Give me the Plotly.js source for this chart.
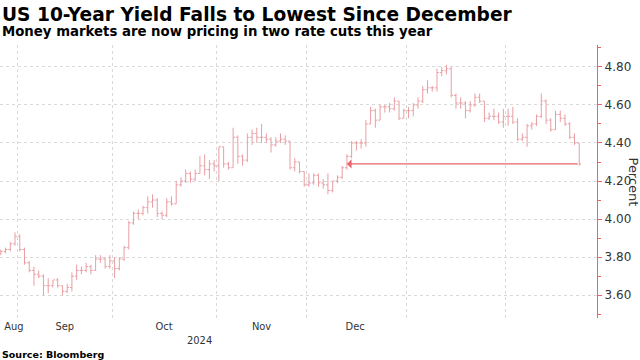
<!DOCTYPE html>
<html>
<head>
<meta charset="utf-8">
<script src="https://cdn.plot.ly/plotly-3.0.1.min.js"></script>
<style>
  html, body { margin: 0; padding: 0; background: #ffffff; }
  #chart { width: 640px; height: 360px; }
</style>
</head>
<body>
<div id="chart"></div>
<script>
// ---- Data (US 10-year Treasury yield, daily OHLC, percent) ----
const dates = [
  '2024-08-26','2024-08-27','2024-08-28','2024-08-29','2024-08-30',
  '2024-09-03','2024-09-04','2024-09-05','2024-09-06','2024-09-09','2024-09-10','2024-09-11','2024-09-12','2024-09-13','2024-09-16','2024-09-17','2024-09-18','2024-09-19','2024-09-20','2024-09-23','2024-09-24','2024-09-25','2024-09-26','2024-09-27','2024-09-30',
  '2024-10-01','2024-10-02','2024-10-03','2024-10-04','2024-10-07','2024-10-08','2024-10-09','2024-10-10','2024-10-11','2024-10-15','2024-10-16','2024-10-17','2024-10-18','2024-10-21','2024-10-22','2024-10-23','2024-10-24','2024-10-25','2024-10-28','2024-10-29','2024-10-30','2024-10-31',
  '2024-11-01','2024-11-04','2024-11-05','2024-11-06','2024-11-07','2024-11-08','2024-11-12','2024-11-13','2024-11-14','2024-11-15','2024-11-18','2024-11-19','2024-11-20','2024-11-21','2024-11-22','2024-11-25','2024-11-26','2024-11-27','2024-11-29',
  '2024-12-02','2024-12-03','2024-12-04','2024-12-05','2024-12-06','2024-12-09','2024-12-10','2024-12-11','2024-12-12','2024-12-13','2024-12-16','2024-12-17','2024-12-18','2024-12-19','2024-12-20','2024-12-23','2024-12-24','2024-12-26','2024-12-27','2024-12-30','2024-12-31',
  '2025-01-02','2025-01-03','2025-01-06','2025-01-07','2025-01-08','2025-01-09','2025-01-10','2025-01-13','2025-01-14','2025-01-15','2025-01-16','2025-01-17','2025-01-21','2025-01-22','2025-01-23','2025-01-24','2025-01-27','2025-01-28','2025-01-29','2025-01-30','2025-01-31',
  '2025-02-03','2025-02-04','2025-02-05','2025-02-06','2025-02-07','2025-02-10','2025-02-11','2025-02-12','2025-02-13','2025-02-14','2025-02-18','2025-02-19','2025-02-20','2025-02-21','2025-02-24','2025-02-25'
];
const openVals = [
  3.81,3.82,3.83,3.84,3.87,
  3.91,3.84,3.77,3.73,3.71,3.70,3.65,3.65,3.68,3.65,3.62,3.64,3.70,3.73,3.73,3.75,3.73,3.79,3.79,3.75,
  3.78,3.74,3.79,3.85,3.98,4.03,4.03,4.06,4.09,4.10,4.03,4.02,4.09,4.08,4.18,4.20,4.24,4.21,4.24,4.28,4.26,4.29,
  4.28,4.38,4.29,4.27,4.43,4.33,4.31,4.43,4.45,4.43,4.43,4.42,4.39,4.41,4.42,4.41,4.27,4.30,4.25,
  4.18,4.19,4.23,4.19,4.18,4.15,4.20,4.22,4.27,4.33,4.40,4.40,4.40,4.50,4.57,4.52,4.59,4.59,4.58,4.62,4.53,
  4.57,4.57,4.60,4.62,4.68,4.69,4.69,4.77,4.78,4.79,4.65,4.61,4.61,4.57,4.60,4.64,4.62,4.53,4.54,4.54,4.51,
  4.54,4.54,4.51,4.42,4.43,4.49,4.50,4.54,4.62,4.52,4.47,4.55,4.53,4.50,4.43,4.40
];
const highVals = [
  3.83,3.84,3.85,3.88,3.93,
  3.92,3.85,3.78,3.75,3.73,3.71,3.69,3.68,3.69,3.65,3.66,3.72,3.76,3.75,3.77,3.76,3.81,3.81,3.80,3.81,
  3.80,3.80,3.86,3.99,4.04,4.05,4.07,4.12,4.13,4.11,4.04,4.11,4.12,4.20,4.22,4.26,4.25,4.26,4.33,4.34,4.31,4.31,
  4.38,4.38,4.30,4.48,4.44,4.34,4.45,4.47,4.48,4.50,4.45,4.43,4.43,4.45,4.44,4.41,4.32,4.30,4.25,
  4.24,4.24,4.24,4.21,4.24,4.20,4.23,4.28,4.34,4.41,4.41,4.42,4.52,4.59,4.58,4.60,4.60,4.61,4.64,4.62,4.58,
  4.59,4.61,4.64,4.70,4.73,4.70,4.79,4.80,4.81,4.80,4.66,4.64,4.62,4.62,4.66,4.66,4.62,4.56,4.58,4.56,4.58,
  4.58,4.59,4.53,4.45,4.50,4.51,4.55,4.66,4.63,4.53,4.57,4.57,4.55,4.51,4.45,4.40
];
const lowVals = [
  3.80,3.81,3.82,3.83,3.86,
  3.83,3.76,3.72,3.65,3.69,3.60,3.61,3.64,3.64,3.60,3.61,3.62,3.68,3.71,3.72,3.71,3.73,3.77,3.74,3.74,
  3.69,3.73,3.78,3.84,3.97,4.00,4.02,4.03,4.06,4.01,4.00,4.01,4.07,4.08,4.17,4.19,4.19,4.20,4.24,4.23,4.21,4.25,
  4.20,4.27,4.26,4.27,4.29,4.28,4.30,4.39,4.40,4.40,4.40,4.35,4.38,4.40,4.39,4.26,4.25,4.24,4.17,
  4.17,4.18,4.17,4.16,4.13,4.14,4.19,4.21,4.26,4.32,4.36,4.37,4.38,4.50,4.48,4.52,4.56,4.56,4.57,4.52,4.53,
  4.53,4.54,4.58,4.61,4.66,4.67,4.67,4.75,4.76,4.64,4.58,4.58,4.53,4.56,4.59,4.61,4.51,4.52,4.52,4.50,4.48,
  4.49,4.50,4.41,4.41,4.38,4.47,4.49,4.53,4.50,4.46,4.47,4.51,4.49,4.42,4.39,4.28
];
const closeVals = [
  3.82,3.83,3.84,3.87,3.91,
  3.84,3.77,3.73,3.71,3.70,3.65,3.65,3.68,3.65,3.62,3.64,3.70,3.73,3.73,3.75,3.73,3.79,3.79,3.75,3.78,
  3.74,3.79,3.85,3.98,4.03,4.03,4.06,4.09,4.10,4.03,4.02,4.09,4.08,4.18,4.20,4.24,4.21,4.24,4.28,4.26,4.29,4.28,
  4.38,4.29,4.27,4.43,4.33,4.31,4.43,4.45,4.43,4.43,4.42,4.39,4.41,4.42,4.41,4.27,4.30,4.25,4.18,
  4.19,4.23,4.19,4.18,4.15,4.20,4.22,4.27,4.33,4.40,4.40,4.40,4.50,4.57,4.52,4.59,4.59,4.58,4.62,4.53,4.57,
  4.57,4.60,4.62,4.68,4.69,4.69,4.77,4.78,4.79,4.65,4.61,4.61,4.57,4.60,4.64,4.62,4.53,4.54,4.54,4.51,4.54,
  4.54,4.51,4.42,4.43,4.49,4.50,4.54,4.62,4.52,4.47,4.55,4.53,4.50,4.43,4.40,4.29
];
const holidays = ['2024-09-02','2024-10-14','2024-11-11','2024-11-28','2024-12-25','2025-01-01','2025-01-20','2025-02-17'];

// Month labels and month-boundary grid positions
const monthLabels = ['Aug','Sep','Oct','Nov','Dec'];
const monthLabelDates = ['2024-08-29 18:00','2024-09-16 12:00','2024-10-16 10:00','2024-11-15 00:00','2024-12-13 18:00'];
const monthBoundaries = ['2024-08-30 12:00','2024-09-30 12:00','2024-10-31 12:00','2024-11-29 12:00','2024-12-31 12:00','2025-01-31 12:00'];
const yearLabel = '2024';
const yearLabelDate = '2024-10-28';

// Reference line: latest close back to the last time yield was at that level
const refLevel = 4.29;
const refStartDate = '2024-12-12';
const refEndDate = '2025-02-25';

const yTicks = [3.60, 3.80, 4.00, 4.20, 4.40, 4.60, 4.80];

const RED = '#e8636b';
const BAR = '#e99ea3';
const GRID = '#d9d9d9';
const FONT = 'DejaVu Sans, Verdana, sans-serif';
const FONT_C = 'DejaVu Sans Condensed, DejaVu Sans, sans-serif';

const trace = {
  type: 'ohlc',
  x: dates,
  open: openVals,
  high: highVals,
  low: lowVals,
  close: closeVals,
  increasing: { line: { color: BAR, width: 1 } },
  decreasing: { line: { color: BAR, width: 1 } },
  tickwidth: 0.4,
  hoverinfo: 'skip',
  showlegend: false
};

const layout = {
  width: 640,
  height: 360,
  margin: { l: 0, r: 43, t: 45, b: 42, pad: 0 },
  paper_bgcolor: '#ffffff',
  plot_bgcolor: '#ffffff',
  showlegend: false,
  xaxis: {
    type: 'date',
    range: ['2024-08-26 20:00', '2025-02-28 18:00'],
    rangebreaks: [ { bounds: ['sat', 'mon'] }, { values: holidays } ],
    rangeslider: { visible: false },
    tickmode: 'array',
    tickvals: monthLabelDates,
    ticktext: monthLabels,
    ticks: '',
    showgrid: false,
    zeroline: false,
    showline: false,
    tickfont: { family: FONT_C, size: 11, color: '#333333' },
    minor: {
      tickmode: 'array',
      tickvals: monthBoundaries,
      ticks: '',
      showgrid: true,
      gridcolor: GRID,
      griddash: 'dot',
      gridwidth: 1
    }
  },
  yaxis: {
    side: 'right',
    range: [3.48, 4.915],
    tickmode: 'array',
    tickvals: yTicks,
    tickformat: '.2f',
    ticks: 'outside',
    ticklen: 4,
    tickwidth: 1,
    tickcolor: RED,
    showline: true,
    linecolor: RED,
    linewidth: 1.2,
    showgrid: true,
    gridcolor: GRID,
    griddash: 'dot',
    gridwidth: 1,
    zeroline: false,
    tickfont: { family: FONT, size: 12, color: '#333333' },
    minor: {
      tickmode: 'linear',
      tick0: 3.5,
      dtick: 0.1,
      ticks: 'outside',
      ticklen: 3,
      tickcolor: RED,
      showgrid: false
    }
  },
  annotations: [
    { text: '<b>US 10-Year Yield Falls to Lowest Since December</b>', xref: 'paper', yref: 'paper',
      x: 0, y: (318 - 15) / 273, xanchor: 'left', yanchor: 'middle', showarrow: false,
      font: { family: FONT, size: 18.6, color: '#000000' } },
    { text: '<b>Money markets are now pricing in two rate cuts this year</b>', xref: 'paper', yref: 'paper',
      x: 0, y: (318 - 32) / 273, xanchor: 'left', yanchor: 'middle', showarrow: false,
      font: { family: FONT, size: 13.3, color: '#000000' } },
    { text: '<b>Source: Bloomberg</b>', xref: 'paper', yref: 'paper',
      x: 0, y: (318 - 354) / 273, xanchor: 'left', yanchor: 'middle', showarrow: false,
      font: { family: FONT, size: 9.5, color: '#000000' } },
    { text: yearLabel, xref: 'x', yref: 'paper', x: yearLabelDate, y: (318 - 340) / 273,
      xanchor: 'center', yanchor: 'middle', showarrow: false,
      font: { family: FONT_C, size: 11, color: '#333333' } },
    { text: 'Percent', xref: 'paper', yref: 'paper', x: 633 / 597, y: 0.5, textangle: 90,
      xanchor: 'center', yanchor: 'middle', showarrow: false,
      font: { family: FONT, size: 13, color: '#333333' } },
    { text: '', x: refStartDate, y: refLevel, xref: 'x', yref: 'y',
      ax: refEndDate, ay: refLevel, axref: 'x', ayref: 'y',
      showarrow: true, arrowhead: 1, arrowsize: 1.3, arrowwidth: 1.2, arrowcolor: RED, standoff: 0 }
  ]
};

Plotly.newPlot('chart', [trace], layout, { displayModeBar: false, staticPlot: true });
</script>
</body>
</html>
